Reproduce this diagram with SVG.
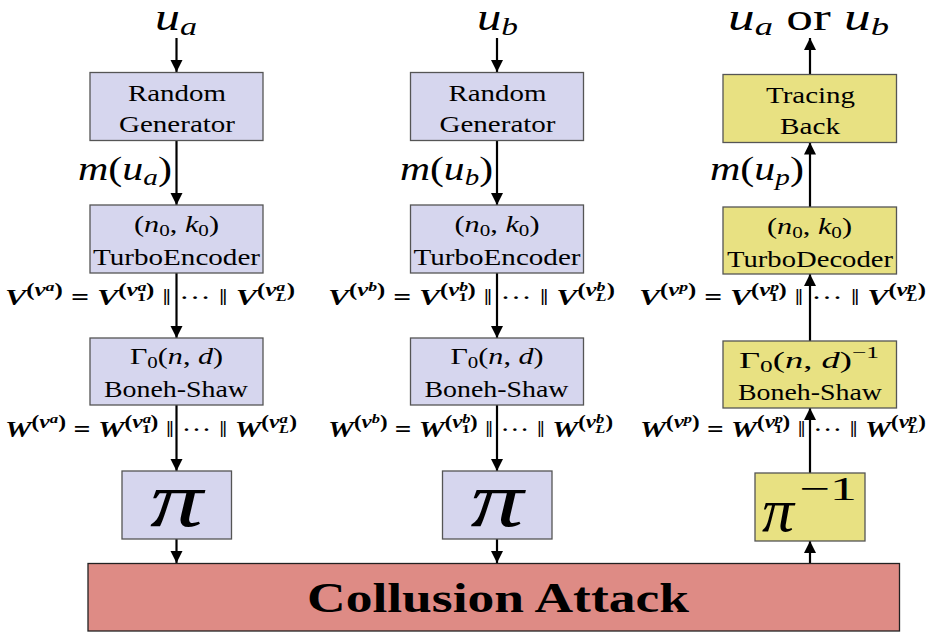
<svg xmlns="http://www.w3.org/2000/svg" width="936" height="633" viewBox="0 0 936 633">
<style>
text{font-family:Liberation Serif, DejaVu Serif, Times New Roman, serif;fill:#000}
.bt{font-size:23px}
.i{font-style:italic}
.lab{font-size:23px;font-weight:bold}
.s{font-size:18px}
.ss{font-size:13px}
.blue{fill:#d6d6ee;stroke:#555;stroke-width:1.3}
.yel{fill:#e8e182;stroke:#555;stroke-width:1.3}
.red{fill:#de8b85;stroke:#222;stroke-width:1.3}
.c{stroke:#000;stroke-width:2.2;fill:none;marker-end:url(#ah)}
</style>
<defs>
<marker id="ah" markerUnits="userSpaceOnUse" markerWidth="12" markerHeight="14" viewBox="0 0 12 14" refX="12" refY="7" orient="auto">
<path d="M0,1 L12,7 L0,13 Z" fill="#000"/>
</marker>
</defs>
<g id="connectors">
<line class="c" x1="176.5" y1="38" x2="176.5" y2="72"/>
<line class="c" x1="176.5" y1="141" x2="176.5" y2="205"/>
<line class="c" x1="176.5" y1="273" x2="176.5" y2="338"/>
<line class="c" x1="176.5" y1="405" x2="176.5" y2="471"/>
<line class="c" x1="176.5" y1="539" x2="176.5" y2="563"/>
<line class="c" x1="497" y1="38" x2="497" y2="72"/>
<line class="c" x1="497" y1="141" x2="497" y2="205"/>
<line class="c" x1="497" y1="273" x2="497" y2="338"/>
<line class="c" x1="497" y1="405" x2="497" y2="471"/>
<line class="c" x1="497" y1="539" x2="497" y2="563"/>
<line class="c" x1="810" y1="563" x2="810" y2="541"/>
<line class="c" x1="810" y1="473" x2="810" y2="408"/>
<line class="c" x1="810" y1="341" x2="810" y2="274"/>
<line class="c" x1="810" y1="207" x2="810" y2="142.5"/>
<line class="c" x1="810" y1="74.5" x2="810" y2="38"/>
</g>

<g id="top-labels">
<text x="155" y="30" font-size="38" class="i" textLength="42" lengthAdjust="spacingAndGlyphs">u<tspan font-size="26" dy="5">a</tspan></text>
<text x="477" y="30" font-size="38" class="i" textLength="41" lengthAdjust="spacingAndGlyphs">u<tspan font-size="26" dy="5">b</tspan></text>
<text x="728" y="30" font-size="38" textLength="161" lengthAdjust="spacingAndGlyphs"><tspan class="i">u</tspan><tspan class="i" font-size="26" dy="5">a</tspan><tspan dy="-5"> or </tspan><tspan class="i">u</tspan><tspan class="i" font-size="26" dy="5">b</tspan></text>
</g>

<g id="m-labels">
<text x="78" y="180" font-size="33" textLength="94" lengthAdjust="spacingAndGlyphs"><tspan class="i">m</tspan>(<tspan class="i">u</tspan><tspan class="i" font-size="23" dy="5">a</tspan><tspan dy="-5">)</tspan></text>
<text x="400" y="180" font-size="33" textLength="93" lengthAdjust="spacingAndGlyphs"><tspan class="i">m</tspan>(<tspan class="i">u</tspan><tspan class="i" font-size="23" dy="5">b</tspan><tspan dy="-5">)</tspan></text>
<text x="710" y="180" font-size="33" textLength="94" lengthAdjust="spacingAndGlyphs"><tspan class="i">m</tspan>(<tspan class="i">u</tspan><tspan class="i" font-size="23" dy="5">p</tspan><tspan dy="-5">)</tspan></text>
</g>

<g id="v-labels">
<text class="lab" x="5" y="305" textLength="290" lengthAdjust="spacingAndGlyphs"><tspan class="i">V</tspan><tspan class="s" dy="-9">(</tspan><tspan class="s i">v</tspan><tspan class="ss i" dy="-5">a</tspan><tspan class="s" dy="5">)</tspan><tspan dy="9"> = </tspan><tspan class="i">V</tspan><tspan class="s" dy="-9">(</tspan><tspan class="s i">v</tspan><tspan class="ss i" dy="-5">a</tspan><tspan class="ss" dx="-7" dy="10">1</tspan><tspan class="s" dy="-5">)</tspan><tspan dy="9" font-weight="normal"> ‖ ··· ‖ </tspan><tspan class="i">V</tspan><tspan class="s" dy="-9">(</tspan><tspan class="s i">v</tspan><tspan class="ss i" dy="-5">a</tspan><tspan class="ss i" dx="-7" dy="10">L</tspan><tspan class="s" dy="-5">)</tspan></text>
<text class="lab" x="328" y="305" textLength="287" lengthAdjust="spacingAndGlyphs"><tspan class="i">V</tspan><tspan class="s" dy="-9">(</tspan><tspan class="s i">v</tspan><tspan class="ss i" dy="-5">b</tspan><tspan class="s" dy="5">)</tspan><tspan dy="9"> = </tspan><tspan class="i">V</tspan><tspan class="s" dy="-9">(</tspan><tspan class="s i">v</tspan><tspan class="ss i" dy="-5">b</tspan><tspan class="ss" dx="-7" dy="10">1</tspan><tspan class="s" dy="-5">)</tspan><tspan dy="9" font-weight="normal"> ‖ ··· ‖ </tspan><tspan class="i">V</tspan><tspan class="s" dy="-9">(</tspan><tspan class="s i">v</tspan><tspan class="ss i" dy="-5">b</tspan><tspan class="ss i" dx="-7" dy="10">L</tspan><tspan class="s" dy="-5">)</tspan></text>
<text class="lab" x="639" y="305" textLength="287" lengthAdjust="spacingAndGlyphs"><tspan class="i">V</tspan><tspan class="s" dy="-9">(</tspan><tspan class="s i">v</tspan><tspan class="ss i" dy="-5">p</tspan><tspan class="s" dy="5">)</tspan><tspan dy="9"> = </tspan><tspan class="i">V</tspan><tspan class="s" dy="-9">(</tspan><tspan class="s i">v</tspan><tspan class="ss i" dy="-5">p</tspan><tspan class="ss" dx="-7" dy="10">1</tspan><tspan class="s" dy="-5">)</tspan><tspan dy="9" font-weight="normal"> ‖ ··· ‖ </tspan><tspan class="i">V</tspan><tspan class="s" dy="-9">(</tspan><tspan class="s i">v</tspan><tspan class="ss i" dy="-5">p</tspan><tspan class="ss i" dx="-7" dy="10">L</tspan><tspan class="s" dy="-5">)</tspan></text>
</g>

<g id="w-labels">
<text class="lab" x="5" y="437" textLength="292" lengthAdjust="spacingAndGlyphs"><tspan class="i">W</tspan><tspan class="s" dy="-9">(</tspan><tspan class="s i">v</tspan><tspan class="ss i" dy="-5">a</tspan><tspan class="s" dy="5">)</tspan><tspan dy="9"> = </tspan><tspan class="i">W</tspan><tspan class="s" dy="-9">(</tspan><tspan class="s i">v</tspan><tspan class="ss i" dy="-5">a</tspan><tspan class="ss" dx="-7" dy="10">1</tspan><tspan class="s" dy="-5">)</tspan><tspan dy="9" font-weight="normal"> ‖ ··· ‖ </tspan><tspan class="i">W</tspan><tspan class="s" dy="-9">(</tspan><tspan class="s i">v</tspan><tspan class="ss i" dy="-5">a</tspan><tspan class="ss i" dx="-7" dy="10">L</tspan><tspan class="s" dy="-5">)</tspan></text>
<text class="lab" x="328" y="437" textLength="285" lengthAdjust="spacingAndGlyphs"><tspan class="i">W</tspan><tspan class="s" dy="-9">(</tspan><tspan class="s i">v</tspan><tspan class="ss i" dy="-5">b</tspan><tspan class="s" dy="5">)</tspan><tspan dy="9"> = </tspan><tspan class="i">W</tspan><tspan class="s" dy="-9">(</tspan><tspan class="s i">v</tspan><tspan class="ss i" dy="-5">b</tspan><tspan class="ss" dx="-7" dy="10">1</tspan><tspan class="s" dy="-5">)</tspan><tspan dy="9" font-weight="normal"> ‖ ··· ‖ </tspan><tspan class="i">W</tspan><tspan class="s" dy="-9">(</tspan><tspan class="s i">v</tspan><tspan class="ss i" dy="-5">b</tspan><tspan class="ss i" dx="-7" dy="10">L</tspan><tspan class="s" dy="-5">)</tspan></text>
<text class="lab" x="640" y="437" textLength="286" lengthAdjust="spacingAndGlyphs"><tspan class="i">W</tspan><tspan class="s" dy="-9">(</tspan><tspan class="s i">v</tspan><tspan class="ss i" dy="-5">p</tspan><tspan class="s" dy="5">)</tspan><tspan dy="9"> = </tspan><tspan class="i">W</tspan><tspan class="s" dy="-9">(</tspan><tspan class="s i">v</tspan><tspan class="ss i" dy="-5">p</tspan><tspan class="ss" dx="-7" dy="10">1</tspan><tspan class="s" dy="-5">)</tspan><tspan dy="9" font-weight="normal"> ‖ ··· ‖ </tspan><tspan class="i">W</tspan><tspan class="s" dy="-9">(</tspan><tspan class="s i">v</tspan><tspan class="ss i" dy="-5">p</tspan><tspan class="ss i" dx="-7" dy="10">L</tspan><tspan class="s" dy="-5">)</tspan></text>
</g>

<g id="rg-a"><rect class="blue" x="90" y="72.5" width="173" height="68"/>
<text class="bt" x="128" y="101" textLength="98" lengthAdjust="spacingAndGlyphs">Random</text>
<text class="bt" x="119" y="132" textLength="116" lengthAdjust="spacingAndGlyphs">Generator</text></g>
<g id="te-a"><rect class="blue" x="90" y="205" width="173" height="68"/>
<text class="bt" x="134" y="232" textLength="85" lengthAdjust="spacingAndGlyphs">(<tspan class="i">n</tspan><tspan font-size="16" dy="4">0</tspan><tspan dy="-4">, </tspan><tspan class="i">k</tspan><tspan font-size="16" dy="4">0</tspan><tspan dy="-4">)</tspan></text>
<text class="bt" x="93" y="265" textLength="167" lengthAdjust="spacingAndGlyphs">TurboEncoder</text></g>
<g id="bs-a"><rect class="blue" x="90" y="338" width="173" height="67"/>
<text class="bt" x="130" y="364" textLength="93" lengthAdjust="spacingAndGlyphs">Γ<tspan font-size="16" dy="4">0</tspan><tspan dy="-4">(</tspan><tspan class="i">n</tspan>, <tspan class="i">d</tspan>)</text>
<text class="bt" x="104" y="397" textLength="144" lengthAdjust="spacingAndGlyphs">Boneh-Shaw</text></g>
<g id="pi-a"><rect class="blue" x="122" y="471" width="109.5" height="68"/>
<text class="i" x="150" y="526" font-size="78" textLength="53" lengthAdjust="spacingAndGlyphs">π</text></g>

<g id="rg-b"><rect class="blue" x="410.5" y="72.5" width="173" height="68"/>
<text class="bt" x="448.5" y="101" textLength="98" lengthAdjust="spacingAndGlyphs">Random</text>
<text class="bt" x="439.5" y="132" textLength="116" lengthAdjust="spacingAndGlyphs">Generator</text></g>
<g id="te-b"><rect class="blue" x="410.5" y="205" width="173" height="68"/>
<text class="bt" x="454.5" y="232" textLength="85" lengthAdjust="spacingAndGlyphs">(<tspan class="i">n</tspan><tspan font-size="16" dy="4">0</tspan><tspan dy="-4">, </tspan><tspan class="i">k</tspan><tspan font-size="16" dy="4">0</tspan><tspan dy="-4">)</tspan></text>
<text class="bt" x="413.5" y="265" textLength="167" lengthAdjust="spacingAndGlyphs">TurboEncoder</text></g>
<g id="bs-b"><rect class="blue" x="410.5" y="338" width="173" height="67"/>
<text class="bt" x="450.5" y="364" textLength="93" lengthAdjust="spacingAndGlyphs">Γ<tspan font-size="16" dy="4">0</tspan><tspan dy="-4">(</tspan><tspan class="i">n</tspan>, <tspan class="i">d</tspan>)</text>
<text class="bt" x="424.5" y="397" textLength="144" lengthAdjust="spacingAndGlyphs">Boneh-Shaw</text></g>
<g id="pi-b"><rect class="blue" x="442.5" y="471" width="109.5" height="68"/>
<text class="i" x="470.5" y="526" font-size="78" textLength="53" lengthAdjust="spacingAndGlyphs">π</text></g>

<g id="tb-c"><rect class="yel" x="723" y="74.5" width="173.5" height="68"/>
<text class="bt" x="766" y="103" textLength="89" lengthAdjust="spacingAndGlyphs">Tracing</text>
<text class="bt" x="780" y="134" textLength="60" lengthAdjust="spacingAndGlyphs">Back</text></g>
<g id="td-c"><rect class="yel" x="723" y="207" width="173.5" height="67"/>
<text class="bt" x="767" y="234" textLength="85" lengthAdjust="spacingAndGlyphs">(<tspan class="i">n</tspan><tspan font-size="16" dy="4">0</tspan><tspan dy="-4">, </tspan><tspan class="i">k</tspan><tspan font-size="16" dy="4">0</tspan><tspan dy="-4">)</tspan></text>
<text class="bt" x="727" y="267" textLength="166" lengthAdjust="spacingAndGlyphs">TurboDecoder</text></g>
<g id="bs-c"><rect class="yel" x="723" y="341" width="173.5" height="67"/>
<text class="bt" x="739" y="368" textLength="140" lengthAdjust="spacingAndGlyphs">Γ<tspan font-size="16" dy="4">0</tspan><tspan dy="-4">(</tspan><tspan class="i">n</tspan>, <tspan class="i">d</tspan>)<tspan font-size="16" dy="-10">−1</tspan></text>
<text class="bt" x="738" y="400" textLength="144" lengthAdjust="spacingAndGlyphs">Boneh-Shaw</text></g>
<g id="pi-c"><rect class="yel" x="755" y="473" width="110" height="68"/>
<text class="i" x="762" y="531" font-size="62" textLength="32" lengthAdjust="spacingAndGlyphs">π</text>
<text x="799" y="500" font-size="34" textLength="58" lengthAdjust="spacingAndGlyphs">−1</text></g>

<g id="collusion"><rect class="red" x="88" y="563.5" width="811.5" height="67.5"/>
<text x="307" y="612" font-size="42" font-weight="bold" textLength="382" lengthAdjust="spacingAndGlyphs">Collusion Attack</text></g>
</svg>
